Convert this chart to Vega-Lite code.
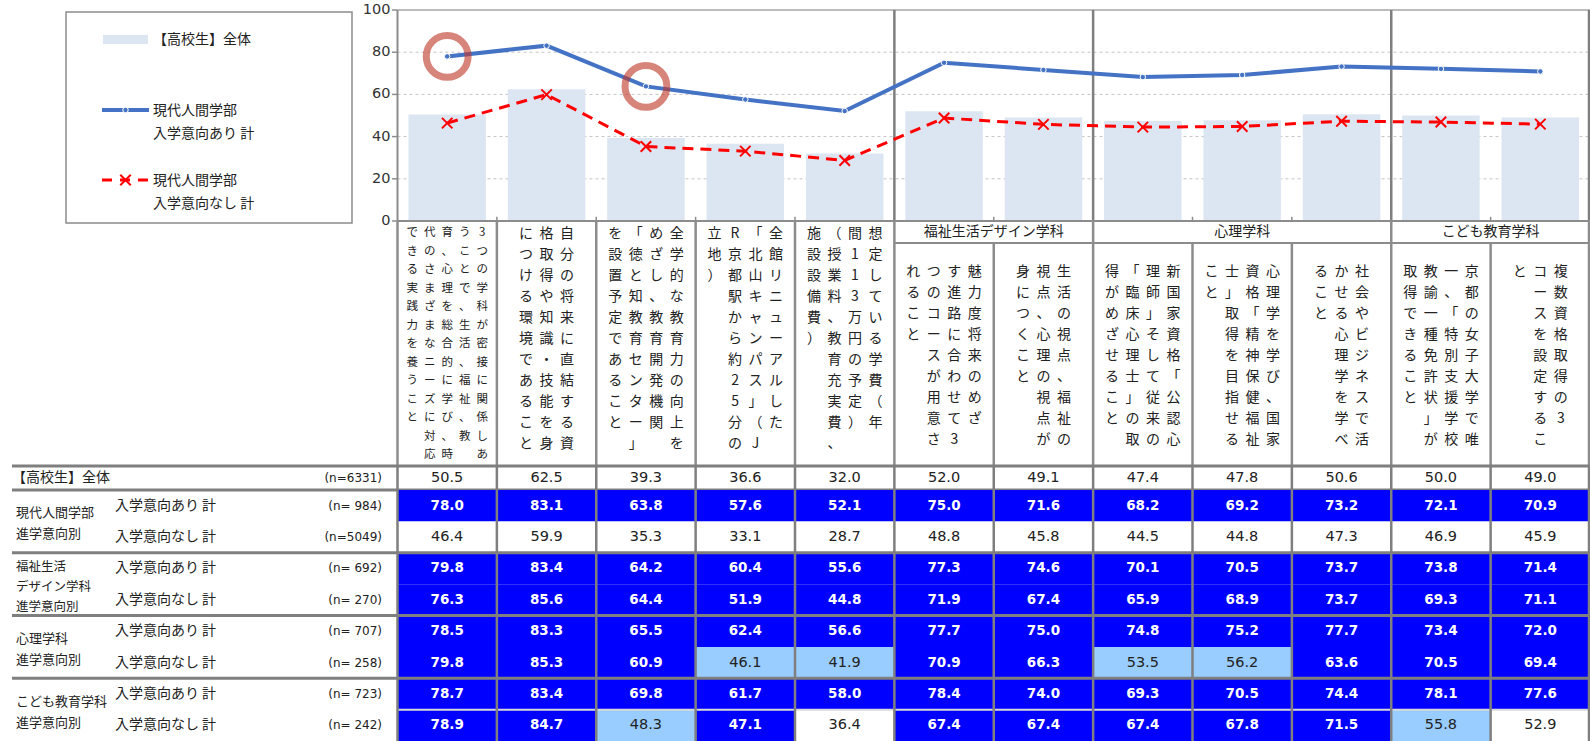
{
"$schema": "https://vega.github.io/schema/vega-lite/v6.json",
"padding": 0,
"background": "#ffffff",
"spacing": 0,
"bounds": "flush",
"config": {"view": {"stroke": null}, "axis": {"disable": true}, "legend": {"disable": true}, "text": {"font": "Noto Sans CJK JP", "color": "#222222"}},
"datasets": {
"tbl": [
{"r":0,"i":0,"v":50.5},{"r":0,"i":1,"v":62.5},{"r":0,"i":2,"v":39.3},{"r":0,"i":3,"v":36.6},{"r":0,"i":4,"v":32.0},{"r":0,"i":5,"v":52.0},{"r":0,"i":6,"v":49.1},{"r":0,"i":7,"v":47.4},{"r":0,"i":8,"v":47.8},{"r":0,"i":9,"v":50.6},{"r":0,"i":10,"v":50.0},{"r":0,"i":11,"v":49.0},
{"r":1,"i":0,"v":78.0},{"r":1,"i":1,"v":83.1},{"r":1,"i":2,"v":63.8},{"r":1,"i":3,"v":57.6},{"r":1,"i":4,"v":52.1},{"r":1,"i":5,"v":75.0},{"r":1,"i":6,"v":71.6},{"r":1,"i":7,"v":68.2},{"r":1,"i":8,"v":69.2},{"r":1,"i":9,"v":73.2},{"r":1,"i":10,"v":72.1},{"r":1,"i":11,"v":70.9},
{"r":2,"i":0,"v":46.4},{"r":2,"i":1,"v":59.9},{"r":2,"i":2,"v":35.3},{"r":2,"i":3,"v":33.1},{"r":2,"i":4,"v":28.7},{"r":2,"i":5,"v":48.8},{"r":2,"i":6,"v":45.8},{"r":2,"i":7,"v":44.5},{"r":2,"i":8,"v":44.8},{"r":2,"i":9,"v":47.3},{"r":2,"i":10,"v":46.9},{"r":2,"i":11,"v":45.9},
{"r":3,"i":0,"v":79.8},{"r":3,"i":1,"v":83.4},{"r":3,"i":2,"v":64.2},{"r":3,"i":3,"v":60.4},{"r":3,"i":4,"v":55.6},{"r":3,"i":5,"v":77.3},{"r":3,"i":6,"v":74.6},{"r":3,"i":7,"v":70.1},{"r":3,"i":8,"v":70.5},{"r":3,"i":9,"v":73.7},{"r":3,"i":10,"v":73.8},{"r":3,"i":11,"v":71.4},
{"r":4,"i":0,"v":76.3},{"r":4,"i":1,"v":85.6},{"r":4,"i":2,"v":64.4},{"r":4,"i":3,"v":51.9},{"r":4,"i":4,"v":44.8},{"r":4,"i":5,"v":71.9},{"r":4,"i":6,"v":67.4},{"r":4,"i":7,"v":65.9},{"r":4,"i":8,"v":68.9},{"r":4,"i":9,"v":73.7},{"r":4,"i":10,"v":69.3},{"r":4,"i":11,"v":71.1},
{"r":5,"i":0,"v":78.5},{"r":5,"i":1,"v":83.3},{"r":5,"i":2,"v":65.5},{"r":5,"i":3,"v":62.4},{"r":5,"i":4,"v":56.6},{"r":5,"i":5,"v":77.7},{"r":5,"i":6,"v":75.0},{"r":5,"i":7,"v":74.8},{"r":5,"i":8,"v":75.2},{"r":5,"i":9,"v":77.7},{"r":5,"i":10,"v":73.4},{"r":5,"i":11,"v":72.0},
{"r":6,"i":0,"v":79.8},{"r":6,"i":1,"v":85.3},{"r":6,"i":2,"v":60.9},{"r":6,"i":3,"v":46.1},{"r":6,"i":4,"v":41.9},{"r":6,"i":5,"v":70.9},{"r":6,"i":6,"v":66.3},{"r":6,"i":7,"v":53.5},{"r":6,"i":8,"v":56.2},{"r":6,"i":9,"v":63.6},{"r":6,"i":10,"v":70.5},{"r":6,"i":11,"v":69.4},
{"r":7,"i":0,"v":78.7},{"r":7,"i":1,"v":83.4},{"r":7,"i":2,"v":69.8},{"r":7,"i":3,"v":61.7},{"r":7,"i":4,"v":58.0},{"r":7,"i":5,"v":78.4},{"r":7,"i":6,"v":74.0},{"r":7,"i":7,"v":69.3},{"r":7,"i":8,"v":70.5},{"r":7,"i":9,"v":74.4},{"r":7,"i":10,"v":78.1},{"r":7,"i":11,"v":77.6},
{"r":8,"i":0,"v":78.9},{"r":8,"i":1,"v":84.7},{"r":8,"i":2,"v":48.3},{"r":8,"i":3,"v":47.1},{"r":8,"i":4,"v":36.4},{"r":8,"i":5,"v":67.4},{"r":8,"i":6,"v":67.4},{"r":8,"i":7,"v":67.4},{"r":8,"i":8,"v":67.8},{"r":8,"i":9,"v":71.5},{"r":8,"i":10,"v":55.8},{"r":8,"i":11,"v":52.9}
],
"items": [
{"i":0,"g":""},{"i":1,"g":""},{"i":2,"g":""},{"i":3,"g":""},{"i":4,"g":""},
{"i":5,"g":"福祉生活デザイン学科"},{"i":6,"g":"福祉生活デザイン学科"},
{"i":7,"g":"心理学科"},{"i":8,"g":"心理学科"},{"i":9,"g":"心理学科"},
{"i":10,"g":"こども教育学科"},{"i":11,"g":"こども教育学科"}
],
"cols": [
{"i":0,"c":0,"t":"3つの学科が密接に関係しあ"},
{"i":0,"c":1,"t":"うことで、生活、福祉、教"},
{"i":0,"c":2,"t":"育、心理を総合的に学び、時"},
{"i":0,"c":3,"t":"代のさまざまなニーズに対応"},
{"i":0,"c":4,"t":"できる実践力を養うこと"},
{"i":1,"c":0,"t":"自分の将来に直結する資"},
{"i":1,"c":1,"t":"格取得や知識・技能を身"},
{"i":1,"c":2,"t":"につける環境であること"},
{"i":2,"c":0,"t":"全学的な教育力の向上を"},
{"i":2,"c":1,"t":"めざし、教育開発機関"},
{"i":2,"c":2,"t":"「徳と知教育センター」"},
{"i":2,"c":3,"t":"を設置予定であること"},
{"i":3,"c":0,"t":"全館リニューアルした"},
{"i":3,"c":1,"t":"「北山キャンパス」（J"},
{"i":3,"c":2,"t":"R京都駅から約25分の"},
{"i":3,"c":3,"t":"立地）"},
{"i":4,"c":0,"t":"想定している学費　（年"},
{"i":4,"c":1,"t":"間113万円の予定）"},
{"i":4,"c":2,"t":"（授業料、教育充実費、"},
{"i":4,"c":3,"t":"施設設備費）"},
{"i":5,"c":0,"t":"魅力度　将来のめざ"},
{"i":5,"c":1,"t":"す進路に合わせて3"},
{"i":5,"c":2,"t":"つのコースが用意さ"},
{"i":5,"c":3,"t":"れること"},
{"i":6,"c":0,"t":"生活の視点、福祉の"},
{"i":6,"c":1,"t":"視点、心理の視点が"},
{"i":6,"c":2,"t":"身につくこと"},
{"i":7,"c":0,"t":"新国家資格「公認心"},
{"i":7,"c":1,"t":"理師」そして従来の"},
{"i":7,"c":2,"t":"「臨床心理士」の取"},
{"i":7,"c":3,"t":"得がめざせること"},
{"i":8,"c":0,"t":"心理学を学び、国家"},
{"i":8,"c":1,"t":"資格「精神保健福祉"},
{"i":8,"c":2,"t":"士」取得を目指せる"},
{"i":8,"c":3,"t":"こと"},
{"i":9,"c":0,"t":"社会やビジネスで活"},
{"i":9,"c":1,"t":"かせる心理学を学べ"},
{"i":9,"c":2,"t":"ること"},
{"i":10,"c":0,"t":"京都の女子大学で唯"},
{"i":10,"c":1,"t":"一、「特別支援学校"},
{"i":10,"c":2,"t":"教諭一種免許状」が"},
{"i":10,"c":3,"t":"取得できること"},
{"i":11,"c":0,"t":"複数資格取得の3"},
{"i":11,"c":1,"t":"コースを設定するこ"},
{"i":11,"c":2,"t":"と"}
],
"rows": [
{"r":0,"g":"【高校生】全体","s":"","n":"(n=6331)"},
{"r":1,"g":"現代人間学部\n進学意向別","s":"入学意向あり 計","n":"(n= 984)"},
{"r":2,"g":"","s":"入学意向なし 計","n":"(n=5049)"},
{"r":3,"g":"福祉生活\nデザイン学科\n進学意向別","s":"入学意向あり 計","n":"(n= 692)"},
{"r":4,"g":"","s":"入学意向なし 計","n":"(n= 270)"},
{"r":5,"g":"心理学科\n進学意向別","s":"入学意向あり 計","n":"(n= 707)"},
{"r":6,"g":"","s":"入学意向なし 計","n":"(n= 258)"},
{"r":7,"g":"こども教育学科\n進学意向別","s":"入学意向あり 計","n":"(n= 723)"},
{"r":8,"g":"","s":"入学意向なし 計","n":"(n= 242)"}
],
"yticks": [{"t":0},{"t":20},{"t":40},{"t":60},{"t":80},{"t":100}]
},
"vconcat": [
{
"width": 1590, "height": 221,
"layer": [
{"data": {"values": [{}]}, "mark": {"type": "rect", "fill": "transparent", "stroke": "#8c8c8c", "strokeWidth": 1.5},
 "encoding": {"x": {"datum": -3.3358, "type": "quantitative", "scale": {"domain": [-4, 12], "nice": false, "zero": false}}, "x2": {"datum": -0.4579}, "y": {"datum": 99.05, "type": "quantitative", "scale": {"domain": [0, 104.74], "nice": false, "zero": false}}, "y2": {"datum": -0.95}}},
{"data": {"values": [{}]}, "mark": {"type": "rect", "fill": "#dce6f2"},
 "encoding": {"x": {"datum": -2.9635}, "x2": {"datum": -2.5107}, "y": {"datum": 88.15}, "y2": {"datum": 83.89}}},
{"data": {"values": [{}]}, "mark": {"type": "text", "text": "【高校生】全体", "align": "left", "baseline": "middle", "fontSize": 14},
 "encoding": {"x": {"datum": -2.4604}, "y": {"datum": 85.78}}},
{"data": {"values": [{}]}, "mark": {"type": "rule", "color": "#4472c4", "strokeWidth": 4},
 "encoding": {"x": {"datum": -2.9736}, "x2": {"datum": -2.5006}, "y": {"datum": 52.61}}},
{"data": {"values": [{}]}, "mark": {"type": "point", "shape": "circle", "filled": true, "color": "#4472c4", "stroke": "#ffffff", "strokeWidth": 1, "size": 30, "opacity": 1},
 "encoding": {"x": {"datum": -2.7371}, "y": {"datum": 52.61}}},
{"data": {"values": [{}]}, "mark": {"type": "text", "text": ["現代人間学部", "入学意向あり 計"], "align": "left", "baseline": "top", "lineHeight": 23, "fontSize": 14},
 "encoding": {"x": {"datum": -2.4604}, "y": {"datum": 55.31}}},
{"data": {"values": [{}]}, "mark": {"type": "rule", "color": "#ff0000", "strokeWidth": 3, "strokeDash": [10, 8]},
 "encoding": {"x": {"datum": -2.9736}, "x2": {"datum": -2.5006}, "y": {"datum": 19.43}}},
{"data": {"values": [{}]}, "mark": {"type": "point", "shape": "M-1,-1L1,1M-1,1L1,-1", "filled": false, "color": "#ff0000", "strokeWidth": 2, "size": 110, "opacity": 1},
 "encoding": {"x": {"datum": -2.7371}, "y": {"datum": 19.43}}},
{"data": {"values": [{}]}, "mark": {"type": "text", "text": ["現代人間学部", "入学意向なし 計"], "align": "left", "baseline": "top", "lineHeight": 23, "fontSize": 14},
 "encoding": {"x": {"datum": -2.4604}, "y": {"datum": 22.13}}},
{"data": {"name": "yticks"}, "transform": [{"filter": "datum.t > 0 && datum.t < 100"}], "mark": {"type": "rule", "color": "#c4c4c4", "strokeWidth": 1, "strokeDash": [3, 3]},
 "encoding": {"x": {"datum": 0}, "x2": {"datum": 12}, "y": {"field": "t", "type": "quantitative"}}},
{"data": {"name": "tbl"}, "transform": [{"filter": "datum.r == 0"}, {"calculate": "datum.i + 0.11", "as": "x0"}, {"calculate": "datum.i + 0.89", "as": "x1"}],
 "mark": {"type": "rect", "fill": "#dce6f2"},
 "encoding": {"x": {"field": "x0", "type": "quantitative"}, "x2": {"field": "x1"}, "y": {"field": "v", "type": "quantitative"}, "y2": {"datum": 0}}},
{"data": {"values": [{}]}, "mark": {"type": "rule", "color": "#a6a6a6", "strokeWidth": 1.5},
 "encoding": {"x": {"datum": 0}, "x2": {"datum": 12}, "y": {"datum": 100}}},
{"data": {"values": [{}]}, "mark": {"type": "rule", "color": "#8c8c8c", "strokeWidth": 2},
 "encoding": {"x": {"datum": 0}, "y": {"datum": 0}, "y2": {"datum": 100}}},
{"data": {"name": "yticks"}, "mark": {"type": "rule", "color": "#8c8c8c", "strokeWidth": 1.5},
 "encoding": {"x": {"datum": -0.055}, "x2": {"datum": 0}, "y": {"field": "t", "type": "quantitative"}}},
{"data": {"name": "yticks"}, "mark": {"type": "text", "font": "DejaVu Sans", "fontSize": 14.5, "color": "#333333", "align": "right", "baseline": "middle", "dx": -7},
 "encoding": {"x": {"datum": 0}, "y": {"field": "t", "type": "quantitative"}, "text": {"field": "t", "type": "quantitative"}}},
{"data": {"name": "items"}, "transform": [{"filter": "datum.i > 0"}], "mark": {"type": "rule", "color": "#8c8c8c", "strokeWidth": 1.5},
 "encoding": {"x": {"field": "i", "type": "quantitative"}, "y": {"datum": 0}, "y2": {"datum": 2}}},
{"data": {"name": "items"}, "transform": [{"joinaggregate": [{"op": "min", "field": "i", "as": "gmin"}], "groupby": ["g"]}, {"filter": "datum.g != '' && datum.i == datum.gmin"}],
 "mark": {"type": "rule", "color": "#7f7f7f", "strokeWidth": 2.5},
 "encoding": {"x": {"field": "i", "type": "quantitative"}, "y": {"datum": 0}, "y2": {"datum": 100}}},
{"data": {"values": [{}]}, "mark": {"type": "rule", "color": "#7f7f7f", "strokeWidth": 2.5},
 "encoding": {"x": {"datum": 11.99}, "y": {"datum": 0}, "y2": {"datum": 100}}},
{"data": {"name": "tbl"}, "transform": [{"filter": "datum.r == 1"}, {"calculate": "datum.i + 0.5", "as": "ic"}],
 "mark": {"type": "line", "color": "#4472c4", "strokeWidth": 4},
 "encoding": {"x": {"field": "ic", "type": "quantitative"}, "y": {"field": "v", "type": "quantitative"}}},
{"data": {"name": "tbl"}, "transform": [{"filter": "datum.r == 1"}, {"calculate": "datum.i + 0.5", "as": "ic"}],
 "mark": {"type": "point", "shape": "circle", "filled": true, "color": "#4472c4", "stroke": "#ffffff", "strokeWidth": 1, "size": 30, "opacity": 1},
 "encoding": {"x": {"field": "ic", "type": "quantitative"}, "y": {"field": "v", "type": "quantitative"}}},
{"data": {"name": "tbl"}, "transform": [{"filter": "datum.r == 2"}, {"calculate": "datum.i + 0.5", "as": "ic"}],
 "mark": {"type": "line", "color": "#ff0000", "strokeWidth": 3, "strokeDash": [11, 7]},
 "encoding": {"x": {"field": "ic", "type": "quantitative"}, "y": {"field": "v", "type": "quantitative"}}},
{"data": {"name": "tbl"}, "transform": [{"filter": "datum.r == 2"}, {"calculate": "datum.i + 0.5", "as": "ic"}],
 "mark": {"type": "point", "shape": "M-1,-1L1,1M-1,1L1,-1", "filled": false, "color": "#ff0000", "strokeWidth": 2, "size": 110, "opacity": 1},
 "encoding": {"x": {"field": "ic", "type": "quantitative"}, "y": {"field": "v", "type": "quantitative"}}},
{"data": {"name": "tbl"}, "transform": [{"filter": "datum.r == 1 && (datum.i == 0 || datum.i == 2)"}, {"calculate": "datum.i + 0.5", "as": "ic"}],
 "mark": {"type": "point", "shape": "circle", "filled": false, "color": "#c0392b", "strokeWidth": 7, "size": 1750, "opacity": 0.62},
 "encoding": {"x": {"field": "ic", "type": "quantitative"}, "y": {"field": "v", "type": "quantitative"}}}
]
},
{
"width": 1590, "height": 245,
"layer": [
{"data": {"values": [{}]}, "mark": {"type": "rule", "color": "#8c8c8c", "strokeWidth": 2},
 "encoding": {"x": {"datum": 0, "type": "quantitative", "scale": {"domain": [-4, 12], "nice": false, "zero": false}}, "x2": {"datum": 12}, "y": {"datum": 0, "type": "quantitative", "scale": {"domain": [0, 11.6667], "reverse": true, "nice": false, "zero": false}}}},
{"data": {"name": "items"}, "transform": [{"filter": "datum.g != ''"}, {"aggregate": [{"op": "min", "field": "i", "as": "a"}, {"op": "max", "field": "i", "as": "b"}], "groupby": ["g"]}, {"calculate": "(datum.a + datum.b + 1) / 2", "as": "c"}],
 "mark": {"type": "text", "fontSize": 14, "baseline": "middle", "align": "center"},
 "encoding": {"x": {"field": "c", "type": "quantitative"}, "y": {"datum": 0.524}, "text": {"field": "g"}}},
{"data": {"name": "items"}, "transform": [{"filter": "datum.g != ''"}, {"aggregate": [{"op": "min", "field": "i", "as": "a"}, {"op": "max", "field": "i", "as": "b"}], "groupby": ["g"]}, {"calculate": "datum.b + 1", "as": "b1"}],
 "mark": {"type": "rule", "color": "#8c8c8c", "strokeWidth": 2},
 "encoding": {"x": {"field": "a", "type": "quantitative"}, "x2": {"field": "b1"}, "y": {"datum": 1.048}}},
{"data": {"name": "items"}, "transform": [{"joinaggregate": [{"op": "min", "field": "i", "as": "gmin"}], "groupby": ["g"]}, {"filter": "datum.g == '' || datum.i == datum.gmin"}],
 "mark": {"type": "rule", "color": "#8c8c8c", "strokeWidth": 2.5},
 "encoding": {"x": {"field": "i", "type": "quantitative"}}},
{"data": {"name": "items"}, "transform": [{"joinaggregate": [{"op": "min", "field": "i", "as": "gmin"}], "groupby": ["g"]}, {"filter": "datum.g != '' && datum.i != datum.gmin"}],
 "mark": {"type": "rule", "color": "#8c8c8c", "strokeWidth": 2.5},
 "encoding": {"x": {"field": "i", "type": "quantitative"}, "y": {"datum": 1.048}, "y2": {"datum": 11.6667}}},
{"data": {"values": [{}]}, "mark": {"type": "rule", "color": "#8c8c8c", "strokeWidth": 2.5},
 "encoding": {"x": {"datum": 11.99}}},
{"data": {"name": "cols"}, "transform": [{"joinaggregate": [{"op": "count", "as": "nc"}], "groupby": ["i"]}, {"filter": "datum.i == 0"}, {"calculate": "datum.i + 0.5 + ((datum.nc - 1) / 2 - datum.c) * 0.176", "as": "xc"}, {"calculate": "split(datum.t, '')", "as": "ch"}],
 "mark": {"type": "text", "fontSize": 11.5, "lineHeight": 18.5, "baseline": "top", "align": "center"},
 "encoding": {"x": {"field": "xc", "type": "quantitative"}, "y": {"datum": 0.286}, "text": {"field": "ch"}}},
{"data": {"name": "cols"}, "transform": [{"joinaggregate": [{"op": "count", "as": "nc"}], "groupby": ["i"]}, {"filter": "datum.i >= 1 && datum.i <= 4"}, {"calculate": "datum.i + 0.5 + ((datum.nc - 1) / 2 - datum.c) * 0.2063", "as": "xc"}, {"calculate": "split(datum.t, '')", "as": "ch"}],
 "mark": {"type": "text", "fontSize": 14, "lineHeight": 21, "baseline": "top", "align": "center"},
 "encoding": {"x": {"field": "xc", "type": "quantitative"}, "y": {"datum": 0.286}, "text": {"field": "ch"}}},
{"data": {"name": "cols"}, "transform": [{"joinaggregate": [{"op": "count", "as": "nc"}], "groupby": ["i"]}, {"filter": "datum.i >= 5"}, {"calculate": "datum.i + 0.5 + ((datum.nc - 1) / 2 - datum.c) * 0.2063", "as": "xc"}, {"calculate": "split(datum.t, '')", "as": "ch"}],
 "mark": {"type": "text", "fontSize": 14, "lineHeight": 21, "baseline": "top", "align": "center"},
 "encoding": {"x": {"field": "xc", "type": "quantitative"}, "y": {"datum": 2.1}, "text": {"field": "ch"}}}
]
},
{
"width": 1590, "height": 24,
"layer": [
{"data": {"name": "tbl"}, "transform": [{"filter": "datum.r == 0"}, {"calculate": "datum.i + 0.5", "as": "ic"}],
 "mark": {"type": "text", "font": "DejaVu Sans", "fontSize": 14.5, "baseline": "middle", "align": "center"},
 "encoding": {"x": {"field": "ic", "type": "quantitative", "scale": {"domain": [-4, 12], "nice": false, "zero": false}}, "y": {"field": "r", "type": "ordinal", "scale": {"type": "band", "domain": [0], "paddingInner": 0, "paddingOuter": 0}}, "text": {"field": "v", "type": "quantitative", "format": ".1f"}}},
{"data": {"name": "items"}, "mark": {"type": "rule", "color": "#7f7f7f", "strokeWidth": 2.5},
 "encoding": {"x": {"field": "i", "type": "quantitative"}}},
{"data": {"values": [{}]}, "mark": {"type": "rule", "color": "#7f7f7f", "strokeWidth": 2.5},
 "encoding": {"x": {"datum": 11.99}}},
{"data": {"name": "rows"}, "transform": [{"filter": "datum.r == 0"}], "mark": {"type": "rule", "color": "#7f7f7f", "strokeWidth": 3},
 "encoding": {"x": {"datum": -3.8792}, "x2": {"datum": 12}, "y": {"field": "r", "type": "ordinal", "bandPosition": 0}}},
{"data": {"name": "rows"}, "transform": [{"filter": "datum.r == 0"}], "mark": {"type": "rule", "color": "#7f7f7f", "strokeWidth": 3},
 "encoding": {"x": {"datum": -3.8792}, "x2": {"datum": 12}, "y": {"field": "r", "type": "ordinal", "bandPosition": 1}}},
{"data": {"name": "rows"}, "transform": [{"filter": "datum.r == 0"}], "mark": {"type": "text", "fontSize": 14, "align": "left", "baseline": "middle"},
 "encoding": {"x": {"datum": -3.8792}, "y": {"field": "r", "type": "ordinal"}, "text": {"field": "g"}}},
{"data": {"name": "rows"}, "transform": [{"filter": "datum.r == 0"}], "mark": {"type": "text", "font": "DejaVu Sans", "fontSize": 12, "align": "right", "baseline": "middle"},
 "encoding": {"x": {"datum": -0.156}, "y": {"field": "r", "type": "ordinal"}, "text": {"field": "n"}}}
]
},
{
"width": 1590, "height": 251,
"layer": [
{"data": {"name": "tbl"}, "transform": [{"calculate": "datum.r == 0 ? datum.v : null", "as": "tv"}, {"joinaggregate": [{"op": "max", "field": "tv", "as": "tot"}], "groupby": ["i"]}, {"calculate": "datum.v - datum.tot", "as": "d"}, {"filter": "datum.r >= 1"}, {"calculate": "datum.i + 1", "as": "i1"}],
 "mark": {"type": "rect"},
 "encoding": {"x": {"field": "i", "type": "quantitative", "scale": {"domain": [-4, 12], "nice": false, "zero": false}}, "x2": {"field": "i1"}, "y": {"field": "r", "type": "ordinal", "scale": {"type": "band", "domain": [1, 2, 3, 4, 5, 6, 7, 8], "paddingInner": 0, "paddingOuter": 0}}, "color": {"field": "d", "type": "quantitative", "scale": {"type": "threshold", "domain": [5, 10], "range": ["#ffffff", "#99ccff", "#0000ff"]}, "legend": null}}},
{"data": {"name": "rows"}, "transform": [{"filter": "datum.r == 8"}], "mark": {"type": "rule", "color": "#d9d9d9", "strokeWidth": 2},
 "encoding": {"x": {"datum": 0}, "x2": {"datum": 12}, "y": {"field": "r", "type": "ordinal", "bandPosition": 0}}},
{"data": {"name": "items"}, "mark": {"type": "rule", "color": "#7f7f7f", "strokeWidth": 2.5},
 "encoding": {"x": {"field": "i", "type": "quantitative"}}},
{"data": {"values": [{}]}, "mark": {"type": "rule", "color": "#7f7f7f", "strokeWidth": 2.5},
 "encoding": {"x": {"datum": 11.99}}},
{"data": {"name": "rows"}, "transform": [{"filter": "datum.r == 3 || datum.r == 5 || datum.r == 7"}], "mark": {"type": "rule", "color": "#7f7f7f", "strokeWidth": 3},
 "encoding": {"x": {"datum": -3.8792}, "x2": {"datum": 12}, "y": {"field": "r", "type": "ordinal", "bandPosition": 0}}},
{"data": {"name": "tbl"}, "transform": [{"calculate": "datum.r == 0 ? datum.v : null", "as": "tv"}, {"joinaggregate": [{"op": "max", "field": "tv", "as": "tot"}], "groupby": ["i"]}, {"calculate": "datum.v - datum.tot", "as": "d"}, {"filter": "datum.r >= 1 && datum.d >= 10"}, {"calculate": "datum.i + 0.5", "as": "ic"}],
 "mark": {"type": "text", "font": "DejaVu Sans", "fontSize": 13.5, "fontWeight": "bold", "color": "#ffffff", "baseline": "middle", "align": "center"},
 "encoding": {"x": {"field": "ic", "type": "quantitative"}, "y": {"field": "r", "type": "ordinal"}, "text": {"field": "v", "type": "quantitative", "format": ".1f"}}},
{"data": {"name": "tbl"}, "transform": [{"calculate": "datum.r == 0 ? datum.v : null", "as": "tv"}, {"joinaggregate": [{"op": "max", "field": "tv", "as": "tot"}], "groupby": ["i"]}, {"calculate": "datum.v - datum.tot", "as": "d"}, {"filter": "datum.r >= 1 && datum.d < 10"}, {"calculate": "datum.i + 0.5", "as": "ic"}],
 "mark": {"type": "text", "font": "DejaVu Sans", "fontSize": 14.5, "color": "#222222", "baseline": "middle", "align": "center"},
 "encoding": {"x": {"field": "ic", "type": "quantitative"}, "y": {"field": "r", "type": "ordinal"}, "text": {"field": "v", "type": "quantitative", "format": ".1f"}}},
{"data": {"name": "rows"}, "transform": [{"filter": "datum.r >= 1"}], "mark": {"type": "text", "fontSize": 14, "align": "left", "baseline": "middle"},
 "encoding": {"x": {"datum": -2.843}, "y": {"field": "r", "type": "ordinal"}, "text": {"field": "s"}}},
{"data": {"name": "rows"}, "transform": [{"filter": "datum.r >= 1"}], "mark": {"type": "text", "font": "DejaVu Sans", "fontSize": 12, "align": "right", "baseline": "middle"},
 "encoding": {"x": {"datum": -0.156}, "y": {"field": "r", "type": "ordinal"}, "text": {"field": "n"}}},
{"data": {"name": "rows"}, "transform": [{"filter": "datum.r >= 1 && datum.g != '' && datum.r != 3"}], "mark": {"type": "text", "fontSize": 13, "align": "left", "baseline": "top", "lineBreak": "\n", "lineHeight": 21, "dy": -14},
 "encoding": {"x": {"datum": -3.839}, "y": {"field": "r", "type": "ordinal", "bandPosition": 1}, "text": {"field": "g"}}},
{"data": {"name": "rows"}, "transform": [{"filter": "datum.r == 3"}], "mark": {"type": "text", "fontSize": 12.5, "align": "left", "baseline": "top", "lineBreak": "\n", "lineHeight": 20, "dy": -23.5},
 "encoding": {"x": {"datum": -3.839}, "y": {"field": "r", "type": "ordinal", "bandPosition": 1}, "text": {"field": "g"}}}
]
}
]
}
